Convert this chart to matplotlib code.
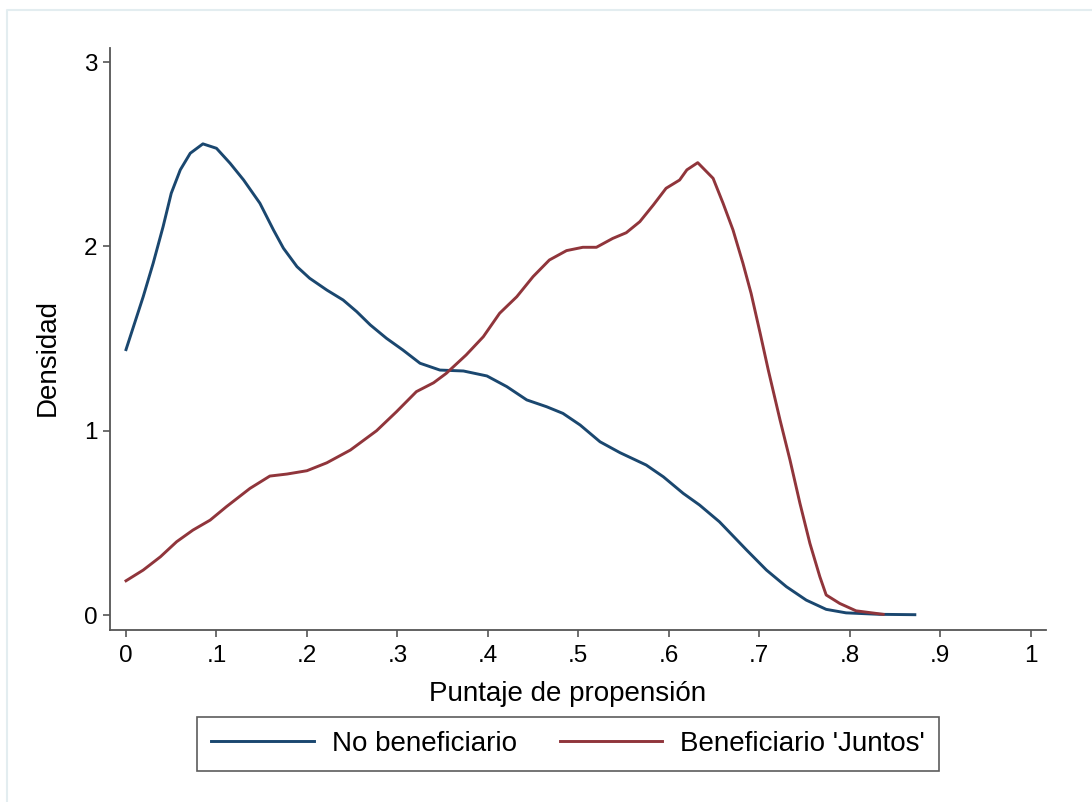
import matplotlib
matplotlib.use("Agg")
import matplotlib.pyplot as plt
from matplotlib.lines import Line2D

plt.rcParams['font.family'] = ['Liberation Sans', 'DejaVu Sans']

# Data
blue_x = [0.0, 0.019, 0.030, 0.041, 0.050, 0.060, 0.071, 0.085, 0.100, 0.115, 0.130,
          0.148, 0.163, 0.174, 0.189, 0.203, 0.222, 0.240, 0.255, 0.270, 0.288, 0.306,
          0.325, 0.347, 0.373, 0.399, 0.421, 0.443, 0.465, 0.483, 0.502, 0.524, 0.546,
          0.575, 0.594, 0.616, 0.634, 0.656, 0.686, 0.708, 0.730, 0.752, 0.774, 0.796,
          0.833, 0.872]
blue_y = [1.44, 1.727, 1.908, 2.107, 2.288, 2.415, 2.505, 2.556, 2.532, 2.451, 2.360,
          2.234, 2.089, 1.990, 1.890, 1.827, 1.763, 1.709, 1.646, 1.574, 1.501, 1.438,
          1.366, 1.329, 1.324, 1.297, 1.239, 1.167, 1.130, 1.094, 1.031, 0.940, 0.881,
          0.814, 0.750, 0.660, 0.597, 0.506, 0.353, 0.244, 0.154, 0.081, 0.031, 0.012,
          0.004, 0.002]

red_x = [0.0, 0.019, 0.038, 0.056, 0.074, 0.093, 0.111, 0.137, 0.159, 0.178, 0.200,
         0.222, 0.248, 0.277, 0.299, 0.321, 0.340, 0.354, 0.376, 0.395, 0.413, 0.432,
         0.450, 0.468, 0.487, 0.505, 0.520, 0.538, 0.553, 0.568, 0.583, 0.597, 0.612,
         0.620, 0.632, 0.649, 0.660, 0.671, 0.682, 0.691, 0.701, 0.710, 0.723, 0.734,
         0.745, 0.756, 0.767, 0.774, 0.789, 0.807, 0.837]
red_y = [0.186, 0.244, 0.316, 0.398, 0.461, 0.515, 0.588, 0.687, 0.754, 0.765, 0.783,
         0.826, 0.895, 1.000, 1.103, 1.212, 1.260, 1.311, 1.411, 1.510, 1.637, 1.727,
         1.836, 1.926, 1.977, 1.995, 1.995, 2.043, 2.074, 2.134, 2.225, 2.315, 2.360,
         2.415, 2.454, 2.369, 2.234, 2.089, 1.908, 1.745, 1.529, 1.329, 1.058, 0.841,
         0.606, 0.389, 0.208, 0.109, 0.063, 0.023, 0.004]

series_labels = ["No beneficiario", "Beneficiario 'Juntos'"]
x_ticks = [0, 0.1, 0.2, 0.3, 0.4, 0.5, 0.6, 0.7, 0.8, 0.9, 1.0]
x_tick_labels = ["0", ".1", ".2", ".3", ".4", ".5", ".6", ".7", ".8", ".9", "1"]
y_ticks = [0, 1, 2, 3]
y_tick_labels = ["0", "1", "2", "3"]
x_title = "Puntaje de propensión"
y_title = "Densidad"

W, H = 1092, 802
fig = plt.figure(figsize=(W / 100, H / 100), dpi=100)
fig.patch.set_facecolor('white')

# light outer frame (top and left visible in reference)
fx = 7 / W
fy = 1 - 10 / H
fig.add_artist(Line2D([fx, fx, 1.0], [0.0, fy, fy], transform=fig.transFigure,
                      color='#e3edf0', lw=1.5))

ax = fig.add_axes([110 / W, (H - 630) / H, (1046 - 110) / W, (630 - 48) / H])

blue = '#1a476f'
red = '#90353b'
l1, = ax.plot(blue_x, blue_y, color=blue, lw=2.1, solid_joinstyle='round')
l2, = ax.plot(red_x, red_y, color=red, lw=2.1, solid_joinstyle='round')

ax.set_xlim(-0.0177, 1.017)
ax.set_ylim(-0.081, 3.076)

for s in ['top', 'right']:
    ax.spines[s].set_visible(False)
for s in ['left', 'bottom']:
    ax.spines[s].set_color('#555555')
    ax.spines[s].set_linewidth(1.3)

ax.set_xticks(x_ticks)
ax.set_xticklabels(x_tick_labels)
ax.set_yticks(y_ticks)
ax.set_yticklabels(y_tick_labels)
ax.tick_params(axis='both', direction='out', length=5, width=1.2, color='#555555',
               labelsize=17.5, labelcolor='black')
ax.tick_params(axis='x', pad=6)
ax.tick_params(axis='y', pad=4)

ax.set_xlabel(x_title, fontsize=20)
ax.xaxis.set_label_coords((568 - 110) / 936, (630 - 694) / 582)
ax.xaxis.label.set_va('center')
ax.set_ylabel(y_title, fontsize=20)
ax.yaxis.set_label_coords((48 - 110) / 936, (630 - 358) / 582)
ax.yaxis.label.set_va('center')

leg = fig.legend([l1, l2], series_labels, loc='center',
                 bbox_to_anchor=(568 / W, 1 - 744 / H), ncol=2,
                 fontsize=20, handlelength=3.7, handletextpad=0.65,
                 columnspacing=1.55, borderpad=0.5, frameon=True,
                 fancybox=False, shadow=False)
leg.get_frame().set_edgecolor('#333333')
leg.get_frame().set_linewidth(1.2)
for h in leg.get_lines():
    h.set_linewidth(2.1)

fig.savefig('out.png', dpi=100, facecolor='white')
